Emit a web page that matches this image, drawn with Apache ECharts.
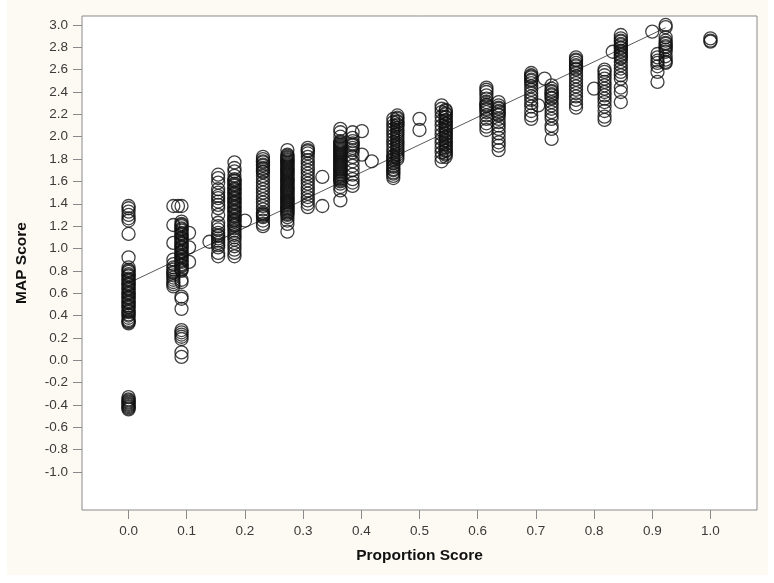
<!DOCTYPE html>
<html>
<head>
<meta charset="utf-8">
<script src="https://cdn.jsdelivr.net/npm/echarts@6/dist/echarts.min.js"></script>
<style>
  html, body { margin: 0; padding: 0; background: #ffffff; }
  .panel { position: absolute; left: 7px; top: 0; width: 761px; height: 575px; background: #fcfaf2; }
  #main { position: absolute; left: 0; top: 0; width: 774px; height: 583px; }
</style>
</head>
<body>
<div class="panel"></div>
<div id="main"></div>
<script>
// tick labels
const xTicks = [0.0, 0.1, 0.2, 0.3, 0.4, 0.5, 0.6, 0.7, 0.8, 0.9, 1.0]
const yTicks = [-1.0, -0.8, -0.6, -0.4, -0.2, 0.0, 0.2, 0.4, 0.6, 0.8, 1.0, 1.2, 1.4, 1.6, 1.8, 2.0, 2.2, 2.4, 2.6, 2.8, 3.0]

// proportion score of each column
const colX = [0.0, 0.077, 0.091, 0.154, 0.182, 0.231, 0.273, 0.308, 0.364, 0.385, 0.455, 0.462,
  0.538, 0.545, 0.615, 0.636, 0.692, 0.727, 0.769, 0.818, 0.846, 0.909, 0.923, 1.0]

// MAP scores per column
const col000 = [1.38, 1.36, 1.33, 1.30, 1.27, 1.25, 1.13, 0.92, 0.83, 0.81, 0.80, 0.79, 0.77, 0.76, 0.75, 0.73,
  0.72, 0.71, 0.69, 0.68, 0.67, 0.65, 0.64, 0.63, 0.61, 0.60, 0.59, 0.57, 0.56, 0.55, 0.53, 0.52, 0.51, 0.49,
  0.48, 0.47, 0.45, 0.44, 0.43, 0.41, 0.40, 0.38, 0.36, 0.35, 0.34, 0.33,
  -0.33, -0.35, -0.36, -0.37, -0.38, -0.39, -0.40, -0.41, -0.42, -0.43, -0.44]
const col077 = [1.38, 1.21, 1.05, 0.90, 0.86, 0.83, 0.81, 0.79, 0.78, 0.76, 0.74, 0.72, 0.70, 0.68, 0.66]
const col091 = [1.38, 1.24, 1.22, 1.21, 1.20, 1.18, 1.17, 1.16, 1.14, 1.13, 1.12, 1.10, 1.09, 1.08, 1.06, 1.05,
  1.04, 1.02, 1.01, 1.00, 0.98, 0.97, 0.96, 0.94, 0.93, 0.92, 0.90, 0.89, 0.88, 0.86, 0.85, 0.84, 0.82, 0.81, 0.80,
  0.72, 0.70, 0.57, 0.55, 0.46, 0.27, 0.25, 0.23, 0.21, 0.19, 0.07, 0.03]
const col154 = [1.66, 1.63, 1.59, 1.53, 1.50, 1.47, 1.45, 1.42, 1.39, 1.36, 1.30, 1.23, 1.20, 1.17, 1.14, 1.12,
  1.11, 1.09, 1.07, 1.05, 1.03, 1.01, 0.96, 0.93]
const col182 = [1.77, 1.72, 1.69, 1.65, 1.62, 1.61, 1.60, 1.58, 1.57, 1.56, 1.54, 1.53, 1.52, 1.50, 1.49, 1.48,
  1.46, 1.45, 1.44, 1.42, 1.41, 1.40, 1.38, 1.37, 1.36, 1.34, 1.33, 1.32, 1.30, 1.29, 1.28, 1.26, 1.25, 1.24,
  1.22, 1.21, 1.20, 1.18, 1.16, 1.14, 1.12, 1.10, 1.08, 1.05, 1.02, 0.99, 0.96, 0.93]
const col231 = [1.82, 1.80, 1.78, 1.77, 1.75, 1.74, 1.72, 1.71, 1.69, 1.68, 1.65, 1.62, 1.59, 1.56, 1.53, 1.50,
  1.47, 1.44, 1.41, 1.38, 1.35, 1.32, 1.31, 1.30, 1.29, 1.28, 1.25, 1.22, 1.20]
const col273 = [1.88, 1.84, 1.83, 1.82, 1.81, 1.80, 1.79, 1.78, 1.77, 1.76, 1.75, 1.74, 1.73, 1.72, 1.71, 1.70,
  1.69, 1.68, 1.67, 1.66, 1.65, 1.64, 1.63, 1.62, 1.61, 1.60, 1.59, 1.58, 1.57, 1.56, 1.55, 1.54, 1.53, 1.52,
  1.51, 1.50, 1.49, 1.48, 1.47, 1.46, 1.45, 1.44, 1.43, 1.42, 1.41, 1.40, 1.39, 1.38, 1.37, 1.36, 1.35, 1.34,
  1.33, 1.32, 1.31, 1.30, 1.28, 1.25, 1.22, 1.15]
const col308 = [1.90, 1.88, 1.87, 1.85, 1.82, 1.79, 1.76, 1.73, 1.70, 1.67, 1.64, 1.61, 1.58, 1.55, 1.52, 1.49,
  1.46, 1.43, 1.40, 1.37]
const col364 = [2.07, 2.04, 2.00, 1.96, 1.95, 1.94, 1.93, 1.92, 1.91, 1.90, 1.89, 1.88, 1.87, 1.86, 1.85, 1.84,
  1.83, 1.82, 1.81, 1.80, 1.79, 1.78, 1.77, 1.76, 1.75, 1.74, 1.73, 1.72, 1.71, 1.70, 1.69, 1.68, 1.67, 1.66,
  1.65, 1.64, 1.63, 1.62, 1.61, 1.60, 1.58, 1.55, 1.52, 1.43]
const col385 = [2.04, 1.99, 1.96, 1.94, 1.93, 1.92, 1.90, 1.88, 1.86, 1.82, 1.78, 1.74, 1.70, 1.66, 1.62, 1.59, 1.56]
const col455 = [2.16, 2.13, 2.10, 2.07, 2.04, 2.01, 1.98, 1.95, 1.92, 1.89, 1.86, 1.83, 1.82, 1.80, 1.79, 1.77,
  1.76, 1.74, 1.73, 1.71, 1.70, 1.68, 1.67, 1.65, 1.63]
const col462 = [2.19, 2.17, 2.16, 2.14, 2.13, 2.11, 2.10, 2.08, 2.06, 2.04, 2.02, 2.00, 1.98, 1.96, 1.94, 1.92,
  1.90, 1.88, 1.86, 1.84, 1.82, 1.80]
const col538 = [2.28, 2.25, 2.22, 2.18, 2.14, 2.10, 2.06, 2.02, 1.98, 1.94, 1.90, 1.86, 1.82, 1.78]
const col545 = [2.24, 2.23, 2.21, 2.20, 2.18, 2.17, 2.15, 2.14, 2.12, 2.11, 2.09, 2.08, 2.06, 2.05, 2.03, 2.02,
  2.00, 1.99, 1.97, 1.96, 1.94, 1.93, 1.91, 1.90, 1.88, 1.87, 1.85, 1.84, 1.82]
const col615 = [2.44, 2.42, 2.40, 2.37, 2.34, 2.31, 2.29, 2.28, 2.27, 2.25, 2.24, 2.22, 2.19, 2.16, 2.12, 2.09, 2.06]
const col636 = [2.31, 2.28, 2.26, 2.25, 2.23, 2.22, 2.20, 2.19, 2.16, 2.13, 2.10, 2.07, 2.03, 1.99, 1.95, 1.92, 1.88]
const col692 = [2.57, 2.55, 2.54, 2.53, 2.51, 2.50, 2.48, 2.45, 2.42, 2.39, 2.36, 2.33, 2.30, 2.27, 2.23, 2.19, 2.16]
const col727 = [2.46, 2.43, 2.41, 2.40, 2.38, 2.37, 2.35, 2.34, 2.31, 2.28, 2.25, 2.22, 2.19, 2.16, 2.10, 2.07, 1.98]
const col769 = [2.71, 2.69, 2.68, 2.66, 2.64, 2.63, 2.61, 2.60, 2.57, 2.54, 2.51, 2.48, 2.45, 2.42, 2.39, 2.36,
  2.33, 2.29, 2.26]
const col818 = [2.60, 2.58, 2.55, 2.52, 2.49, 2.46, 2.43, 2.40, 2.37, 2.34, 2.31, 2.27, 2.23, 2.18, 2.15]
const col846 = [2.91, 2.88, 2.86, 2.85, 2.83, 2.82, 2.80, 2.79, 2.77, 2.76, 2.74, 2.73, 2.71, 2.70, 2.67, 2.64,
  2.61, 2.58, 2.55, 2.52, 2.44, 2.40, 2.31]
const col909 = [2.74, 2.71, 2.68, 2.66, 2.63, 2.58, 2.49]
const col923 = [3.00, 2.98, 2.89, 2.86, 2.84, 2.83, 2.81, 2.80, 2.78, 2.76, 2.72, 2.69, 2.67, 2.66]
const col1000 = [2.88, 2.86, 2.85]

const colY = [col000, col077, col091, col154, col182, col231, col273, col308, col364, col385, col455, col462,
  col538, col545, col615, col636, col692, col727, col769, col818, col846, col909, col923, col1000]

// points off the main columns [proportion, MAP]
const strayPoints = [[0.085, 1.38], [0.104, 1.14], [0.104, 1.01], [0.104, 0.88], [0.139, 1.06], [0.200, 1.25],
  [0.333, 1.64], [0.333, 1.38], [0.401, 2.05], [0.401, 1.84], [0.418, 1.78], [0.500, 2.16], [0.500, 2.06],
  [0.704, 2.28], [0.715, 2.52], [0.800, 2.43], [0.832, 2.76], [0.900, 2.94]]

// fitted line ends
const fitLine = [[0.0, 0.69], [0.923, 2.975]]

const points = []
colX.forEach((x, i) => {
  colY[i].forEach((y) => { points.push([x, y]) })
})
strayPoints.forEach((p) => { points.push(p) })

const axisGray = '#8a8a8a'
const labelStyle = { color: '#3a3a3a', fontSize: 13.5, fontFamily: 'Liberation Sans' }
const nameStyle = { color: '#111', fontSize: 15.5, fontWeight: 'bold', fontFamily: 'Liberation Sans' }

const myChart = echarts.init(document.getElementById('main'))
myChart.setOption({
  animation: false,
  backgroundColor: 'transparent',
  grid: {
    left: 82,
    top: 16,
    right: 17,
    bottom: 73,
    show: true,
    backgroundColor: '#ffffff',
    borderColor: axisGray,
    borderWidth: 1
  },
  xAxis: {
    type: 'value',
    min: -0.08,
    max: 1.08,
    name: 'Proportion Score',
    nameLocation: 'middle',
    nameGap: 38,
    nameTextStyle: nameStyle,
    axisLine: { show: false, onZero: false },
    splitLine: { show: false },
    axisTick: {
      show: true,
      length: 9,
      customValues: xTicks,
      lineStyle: { color: axisGray }
    },
    axisLabel: Object.assign({
      margin: 14,
      customValues: xTicks,
      formatter: (v) => v.toFixed(1)
    }, labelStyle)
  },
  yAxis: {
    type: 'value',
    min: -1.34,
    max: 3.08,
    name: 'MAP Score',
    nameLocation: 'middle',
    nameGap: 52,
    nameTextStyle: nameStyle,
    axisLine: { show: false, onZero: false },
    splitLine: { show: false },
    axisTick: {
      show: true,
      length: 9,
      customValues: yTicks,
      lineStyle: { color: axisGray }
    },
    axisLabel: Object.assign({
      margin: 14,
      customValues: yTicks,
      formatter: (v) => v.toFixed(1)
    }, labelStyle)
  },
  series: [{
    name: 'fit',
    type: 'line',
    data: fitLine,
    symbol: 'none',
    lineStyle: { color: '#5a5a5a', width: 1 },
    z: 1
  }, {
    name: 'scores',
    type: 'scatter',
    data: points,
    symbol: 'circle',
    symbolSize: 13,
    itemStyle: {
      color: 'rgba(0,0,0,0)',
      borderColor: '#111',
      borderWidth: 1.3
    },
    z: 2
  }]
})
</script>
</body>
</html>
